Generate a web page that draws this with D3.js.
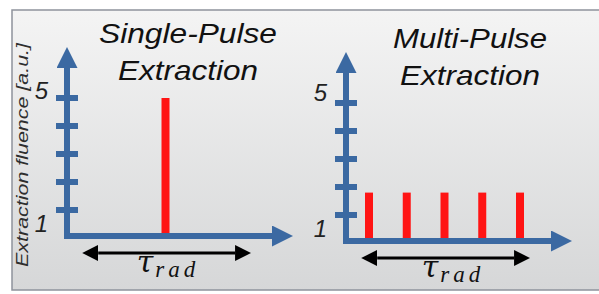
<!DOCTYPE html>
<html>
<head>
<meta charset="utf-8">
<script src="https://cdn.jsdelivr.net/npm/d3@7"></script>
<style>
  body { margin: 0; background: #fff; }
  svg { display: block; }
</style>
</head>
<body>
<div id="chart"></div>
<script>
// panel titles
var titleTop = ["Single-Pulse", "Multi-Pulse"];
var titleBottom = ["Extraction", "Extraction"];

// y ticks (fluence, a.u.) and the two labelled ones
var tickValues = [1, 2, 3, 4, 5];
var tickLabels = ["1", "5"];
var tickLabelValues = [1, 5];

// pulses: time slot -> extraction fluence
var singleTimes = [3];
var singleValues = [5];
var multiTimes = [1, 2, 3, 4, 5];
var multiValues = [1.8, 1.8, 1.8, 1.8, 1.8];

// extent of tau_rad arrow in time slots
var tauSpan = [0.82, 5.24];

var yLabel = "Extraction fluence [a.u.]";

var W = 599, H = 294;
var blue = "#3b69a2", red = "#ff1414";

var svg = d3.select("#chart").append("svg")
    .attr("width", W)
    .attr("height", H);

var defs = svg.append("defs");
var grad = defs.append("linearGradient")
    .attr("id", "bg").attr("x1", 0).attr("y1", 0).attr("x2", 0).attr("y2", 1);
grad.append("stop").attr("offset", "0%").attr("stop-color", "#f4f4f4");
grad.append("stop").attr("offset", "100%").attr("stop-color", "#d6d7d8");

svg.append("rect")
    .attr("x", 12).attr("y", 10)
    .attr("width", 600).attr("height", 280)
    .attr("fill", "url(#bg)")
    .attr("stroke", "#8e939c")
    .attr("stroke-width", 1.5);

function marker(id, color, w, h) {
  defs.append("marker")
      .attr("id", id)
      .attr("viewBox", "0 0 10 10")
      .attr("refX", 0).attr("refY", 5)
      .attr("markerUnits", "userSpaceOnUse")
      .attr("markerWidth", w).attr("markerHeight", h)
      .attr("orient", "auto-start-reverse")
    .append("path")
      .attr("d", "M0,0L10,5L0,10Z")
      .attr("fill", color);
}
marker("blueHead", blue, 21, 21);
marker("blackHead", "#000", 16, 16);

var panels = [
  {ox: 67, oy: 236, times: singleTimes, values: singleValues},
  {ox: 346, oy: 241, times: multiTimes, values: multiValues}
];

panels.forEach(function(p, i) {
  var g = svg.append("g");

  var x = d3.scaleLinear().domain([1, 5]).range([p.ox + 23, p.ox + 174]);
  var y = d3.scaleLinear().domain([0, 5]).range([p.oy + 2, p.oy - 138]);

  // pulses
  g.selectAll(".pulse")
      .data(p.times)
    .enter().append("rect")
      .attr("class", "pulse")
      .attr("x", function(d) { return x(d) - 4; })
      .attr("width", 8)
      .attr("y", function(d, j) { return y(p.values[j]); })
      .attr("height", function(d, j) { return p.oy - y(p.values[j]); })
      .attr("fill", red);

  // ticks
  g.selectAll(".tick")
      .data(tickValues)
    .enter().append("rect")
      .attr("class", "tick")
      .attr("x", p.ox - 11)
      .attr("width", 22)
      .attr("y", function(d) { return y(d) - 3; })
      .attr("height", 6)
      .attr("fill", blue);

  // axes with arrow heads
  g.append("line")
      .attr("x1", p.ox).attr("y1", p.oy + 3)
      .attr("x2", p.ox).attr("y2", p.oy - 168)
      .attr("stroke", blue).attr("stroke-width", 6)
      .attr("marker-end", "url(#blueHead)");
  g.append("line")
      .attr("x1", p.ox - 3).attr("y1", p.oy)
      .attr("x2", p.ox + 205).attr("y2", p.oy)
      .attr("stroke", blue).attr("stroke-width", 6)
      .attr("marker-end", "url(#blueHead)");

  // tick labels
  g.selectAll(".tlab")
      .data(tickLabelValues)
    .enter().append("text")
      .attr("class", "tlab")
      .attr("x", p.ox - 19)
      .attr("y", function(d) { return d === 1 ? y(d) + 22 : y(d) + 1 - i * 3; })
      .attr("text-anchor", "end")
      .style("font-family", "Liberation Sans, Arial, sans-serif")
      .style("font-style", "italic")
      .style("font-size", "24px")
      .attr("fill", "#222")
      .text(function(d, j) { return tickLabels[j]; });

  // tau_rad double arrow
  g.append("line")
      .attr("x1", x(tauSpan[0]) + 15).attr("y1", p.oy + 17)
      .attr("x2", x(tauSpan[1]) - 15).attr("y2", p.oy + 17)
      .attr("stroke", "#000").attr("stroke-width", 3)
      .attr("marker-start", "url(#blackHead)")
      .attr("marker-end", "url(#blackHead)");

  var mid = (x(tauSpan[0]) + x(tauSpan[1])) / 2;
  var tau = g.append("text")
      .attr("x", mid - 30 + i * 6)
      .attr("y", p.oy + 36)
      .style("font-family", "DejaVu Serif, serif")
      .style("font-style", "italic")
      .attr("fill", "#111");
  tau.append("tspan").style("font-size", "30px").text("τ");
  tau.append("tspan").attr("dx", 2).attr("dy", 5)
      .style("font-family", "Liberation Serif, serif")
      .style("font-size", "23px").style("letter-spacing", "4px").text("rad");

  // titles
  var cx = p.ox + 121 + i * 3;
  g.append("text")
      .attr("x", cx).attr("y", p.oy - 193)
      .attr("text-anchor", "middle")
      .attr("textLength", i === 0 ? 178 : 154)
      .attr("lengthAdjust", "spacingAndGlyphs")
      .style("font-family", "Liberation Sans, Arial, sans-serif")
      .style("font-style", "italic")
      .style("font-size", "28px")
      .attr("fill", "#111")
      .text(titleTop[i]);
  g.append("text")
      .attr("x", cx).attr("y", p.oy - 156)
      .attr("text-anchor", "middle")
      .attr("textLength", 140)
      .attr("lengthAdjust", "spacingAndGlyphs")
      .style("font-family", "Liberation Sans, Arial, sans-serif")
      .style("font-style", "italic")
      .style("font-size", "28px")
      .attr("fill", "#111")
      .text(titleBottom[i]);
});

// y axis title
svg.append("text")
    .attr("transform", "translate(28,155) rotate(-90)")
    .attr("text-anchor", "middle")
    .attr("textLength", 224)
    .attr("lengthAdjust", "spacingAndGlyphs")
    .style("font-family", "Liberation Sans, Arial, sans-serif")
    .style("font-style", "italic")
    .style("font-size", "16px")
    .attr("fill", "#2e2e2e")
    .text(yLabel);
</script>
</body>
</html>
